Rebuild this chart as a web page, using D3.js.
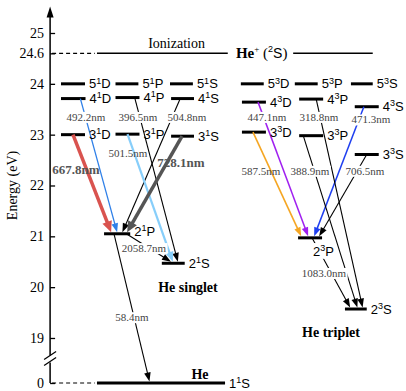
<!DOCTYPE html>
<html><head><meta charset="utf-8">
<script src="https://cdn.jsdelivr.net/npm/d3@7"></script>
<style>
html,body{margin:0;padding:0;background:#fff;}
svg{display:block;}
</style></head><body>
<svg id="chart" width="406" height="391"></svg>
<script>
// ---------------- data ----------------
const yTickValues = [0, 19, 20, 21, 22, 23, 24, 24.6, 25];
const yTickLabels = ["0", "19", "20", "21", "22", "23", "24", "24.6", "25"];
const ionizationEnergy = 24.6;

const singletNames    = ["5¹D","5¹P","5¹S","4¹D","4¹P","4¹S","3¹D","3¹P","3¹S","2¹P","2¹S","1¹S"];
const singletEnergies = [24.0, 24.0, 24.0, 23.71, 23.73, 23.71, 23.0, 23.01, 22.97, 21.05, 20.47, 0];

const tripletNames    = ["5³D","5³P","5³S","4³D","4³P","4³S","3³D","3³P","3³S","2³P","2³S"];
const tripletEnergies = [24.0, 24.0, 24.0, 23.64, 23.70, 23.55, 23.05, 22.98, 22.61, 20.97, 19.57];

const transFrom   = ["3¹D","4¹D","4¹P","4¹S","3¹P","3¹S","2¹P","2¹P","4³D","3³D","4³S","3³S","4³P","3³P","2³P"];
const transTo     = ["2¹P","2¹P","2¹S","2¹P","2¹S","2¹P","2¹S","1¹S","2³P","2³P","2³P","2³P","2³S","2³S","2³S"];
const wavelengths = [667.8, 492.2, 396.5, 504.8, 501.5, 728.1, 2058.7, 58.4, 447.1, 587.5, 471.3, 706.5, 318.8, 388.9, 1083.0];

// ---------------- layout & style (not data) ----------------
// level line: [column start, column width] in column units
const levelLayout = {
  "5¹D":[0,.44], "4¹D":[0,.45], "3¹D":[0,.44],
  "5¹P":[1,.42], "4¹P":[1,.44], "3¹P":[1,.44],
  "5¹S":[2,.42], "4¹S":[2.02,.42], "3¹S":[2.02,.42],
  "2¹P":[.79,.48], "2¹S":[1.85,.42], "1¹S":[.66,2.35],
  "5³D":[3.3,.42], "4³D":[3.32,.44], "3³D":[3.32,.44],
  "5³P":[4.29,.42], "4³P":[4.37,.44], "3³P":[4.37,.44], "2³P":[4.35,.44],
  "5³S":[5.32,.40], "4³S":[5.39,.44], "3³S":[5.39,.44], "2³S":[5.21,.40]
};
// fraction along source / target level lines where the arrow starts / ends
const transAttach = [[.5,.27],[.79,.5],[.8,.7],[.4,.7],[.5,.48],[.48,.88],[.85,.4],[.38,.41],
                     [.67,.42],[.46,.13],[.38,.67],[.5,.88],[.71,.81],[.17,.57],[.58,.24]];
// label position: [column center, energy of baseline, background?, bold?]
const transLabelPos = [[.275,22.226,false,true],[.459,23.27,true,false],[1.413,23.27,true,false],
  [2.312,23.27,true,false],[1.229,22.56,false,false],[2.202,22.36,false,true],[1.523,20.69,true,false],
  [1.303,19.33,true,false],[3.78,23.27,true,false],[3.67,22.21,false,false],[5.688,23.22,true,false],
  [5.578,22.21,true,false],[4.734,23.27,true,false],[4.569,22.21,true,false],[4.826,20.20,true,false]];
const transStyle = [
  {c:"#d9534f",w:3.5},{c:"#2f80e8",w:1.3},{c:"#000",w:1.1},{c:"#000",w:1.1},{c:"#87cefa",w:2.2},
  {c:"#555555",w:3.5},{c:"#000",w:1.1},{c:"#000",w:1.1},{c:"#a020f0",w:1.5},{c:"#f5a623",w:1.6},
  {c:"#1f3ff0",w:1.5},{c:"#000",w:1.1},{c:"#000",w:1.1},{c:"#000",w:1.1},{c:"#000",w:1.1}];

const SERIF = "'Liberation Serif','Times New Roman',serif";
const SANS  = "'Liberation Sans',Arial,sans-serif";

// ---------------- scales ----------------
const svg = d3.select("#chart");
const x = d3.scaleLinear().domain([0, 1]).range([61, 115.5]);
const y = d3.scaleLinear().domain([0, 18.5, 25]).range([383, 363.4, 33]);
const axisX = x(-0.2);

// ---------------- axis ----------------
const axisG = svg.append("g").attr("transform", `translate(${axisX},0)`)
  .call(d3.axisLeft(y).tickValues(yTickValues).tickFormat((d,i)=>yTickLabels[i])
        .tickSizeInner(-5).tickSizeOuter(0).tickPadding(6));
axisG.select(".domain").remove();
axisG.selectAll(".tick line").attr("stroke","#000").attr("stroke-width",1.3);
axisG.selectAll(".tick text").attr("font-family",SERIF).attr("font-size",14).attr("fill","#000");

const topY = y(25.52);
svg.append("path").attr("d", `M${axisX},${topY+9}V${y(18.5)-8}M${axisX},${y(18.5)-1}V${y(0)}`)
  .attr("stroke","#000").attr("stroke-width",1.5).attr("fill","none");
svg.append("path").attr("d", `M${axisX},${topY}L${axisX-3.5},${topY+11}L${axisX+3.5},${topY+11}Z`).attr("fill","#000");
// break marks
[-8, -2].forEach(o=>{
  const by = y(18.5)+o;
  svg.append("line").attr("x1",axisX-6).attr("y1",by+4).attr("x2",axisX+6).attr("y2",by-4)
    .attr("stroke","#000").attr("stroke-width",1.2);
});
svg.append("text").attr("transform",`translate(17,${y(22)}) rotate(-90)`)
  .attr("text-anchor","middle").attr("font-family",SERIF).attr("font-size",14).text("Energy (eV)");

// dashed reference lines
[ionizationEnergy, 0].forEach(e=>{
  svg.append("line").attr("x1",axisX+2).attr("x2",x(.62)).attr("y1",y(e)).attr("y2",y(e))
    .attr("stroke","#000").attr("stroke-width",1.2).attr("stroke-dasharray","4,3");
});
// ionization limit
svg.append("line").attr("x1",x(.66)).attr("x2",x(3.06)).attr("y1",y(ionizationEnergy)).attr("y2",y(ionizationEnergy))
  .attr("stroke","#000").attr("stroke-width",1.5);
svg.append("line").attr("x1",x(4.26)).attr("x2",x(5.72)).attr("y1",y(ionizationEnergy)).attr("y2",y(ionizationEnergy))
  .attr("stroke","#000").attr("stroke-width",1.5);
svg.append("text").attr("x",x(2.12)).attr("y",y(ionizationEnergy)-5).attr("text-anchor","middle")
  .attr("font-family",SERIF).attr("font-size",14).text("Ionization");
const heplus = svg.append("text").attr("x",x(3.21)).attr("y",y(ionizationEnergy)+5).attr("font-size",15);
heplus.append("tspan").attr("font-family",SERIF).attr("font-weight","bold").text("He");
heplus.append("tspan").attr("font-family",SERIF).attr("font-size",9).attr("dy",-6).text("+");
heplus.append("tspan").attr("font-family",SERIF).attr("dy",6).text(" (");
heplus.append("tspan").attr("font-family",SANS).attr("font-size",9).attr("dy",-6).text("2");
heplus.append("tspan").attr("font-family",SANS).attr("font-size",14).attr("dy",6).text("S");
heplus.append("tspan").attr("font-family",SERIF).text(")");

// ---------------- levels ----------------
const levels = new Map();
singletNames.forEach((n,i)=>levels.set(n,{name:n,e:singletEnergies[i]}));
tripletNames.forEach((n,i)=>levels.set(n,{name:n,e:tripletEnergies[i]}));
levels.forEach(L=>{
  const l = levelLayout[L.name];
  L.x0 = x(l[0]); L.x1 = x(l[0]+l[1]); L.y = y(L.e);
});
const levelG = svg.append("g");
levelG.selectAll("line").data([...levels.values()]).join("line")
  .attr("x1",d=>d.x0).attr("x2",d=>d.x1).attr("y1",d=>d.y).attr("y2",d=>d.y)
  .attr("stroke","#000").attr("stroke-width",3);

// ---------------- transitions ----------------
const transG = svg.append("g");
transFrom.forEach((f,i)=>{
  const A = levels.get(f), B = levels.get(transTo[i]);
  const at = transAttach[i], st = transStyle[i];
  const x1 = A.x0+(A.x1-A.x0)*at[0], y1 = A.y;
  const x2 = B.x0+(B.x1-B.x0)*at[1], y2 = B.y-1.5;
  const len = Math.hypot(x2-x1,y2-y1), ux=(x2-x1)/len, uy=(y2-y1)/len;
  const al = st.w>3 ? 11 : (st.w>2 ? 10 : 9), hw = st.w>3 ? 5 : (st.w>2 ? 4 : 3.3);
  const bx = x2-ux*al, by = y2-uy*al;
  transG.append("line").attr("x1",x1).attr("y1",y1).attr("x2",bx+ux).attr("y2",by+uy)
    .attr("stroke",st.c).attr("stroke-width",st.w);
  transG.append("path").attr("d",`M${x2},${y2}L${bx-uy*hw},${by+ux*hw}L${bx+uy*hw},${by-ux*hw}Z`)
    .attr("fill",st.c);
});

// ---------------- level labels ----------------
const lblG = svg.append("g");
levels.forEach(L=>{
  let tx = L.x1+4, ty = L.y+4.5;
  if (L.name==="2¹P") ty = L.y+2;
  if (L.name==="2³P") { tx = L.x0+15; ty = L.y+18; }
  const g = lblG.append("g");
  const t = g.append("text").attr("x",tx).attr("y",ty).attr("font-family",SANS).attr("font-size",13);
  t.append("tspan").text(L.name[0]);
  t.append("tspan").attr("font-size",9).attr("dy",-4.8).text(L.name[1]==="¹"?"1":"3");
  t.append("tspan").attr("dy",4.8).text(L.name[2]);
  if (L.name==="2³P") {
    const b = t.node().getBBox();
    g.insert("rect","text").attr("x",b.x-1).attr("y",b.y).attr("width",b.width+2).attr("height",b.height).attr("fill","#fff");
  }
});

// ---------------- transition labels ----------------
const tlG = svg.append("g");
wavelengths.forEach((w,i)=>{
  const p = transLabelPos[i];
  const g = tlG.append("g");
  const t = g.append("text").attr("x",x(p[0])).attr("y",y(p[1])).attr("text-anchor","middle")
    .attr("font-family",SERIF).attr("font-size",p[3]?13:11)
    .attr("font-weight",p[3]?"bold":"normal").attr("fill",p[3]?"#555":"#444")
    .text(w.toFixed(1)+"nm");
  if (p[2]) {
    const b = t.node().getBBox();
    g.insert("rect","text").attr("x",b.x-1).attr("y",b.y+1).attr("width",b.width+2).attr("height",b.height-1).attr("fill","#fff");
  }
});

// ---------------- group titles ----------------
svg.append("text").attr("x",x(2.33)).attr("y",y(19.905)).attr("text-anchor","middle")
  .attr("font-family",SERIF).attr("font-size",14).attr("font-weight","bold").text("He singlet");
svg.append("text").attr("x",x(4.954)).attr("y",y(19.02)).attr("text-anchor","middle")
  .attr("font-family",SERIF).attr("font-size",14).attr("font-weight","bold").text("He triplet");
svg.append("text").attr("x",x(2.55)).attr("y",y(0)-4).attr("text-anchor","middle")
  .attr("font-family",SERIF).attr("font-size",14).attr("font-weight","bold").text("He");
</script>
</body></html>
